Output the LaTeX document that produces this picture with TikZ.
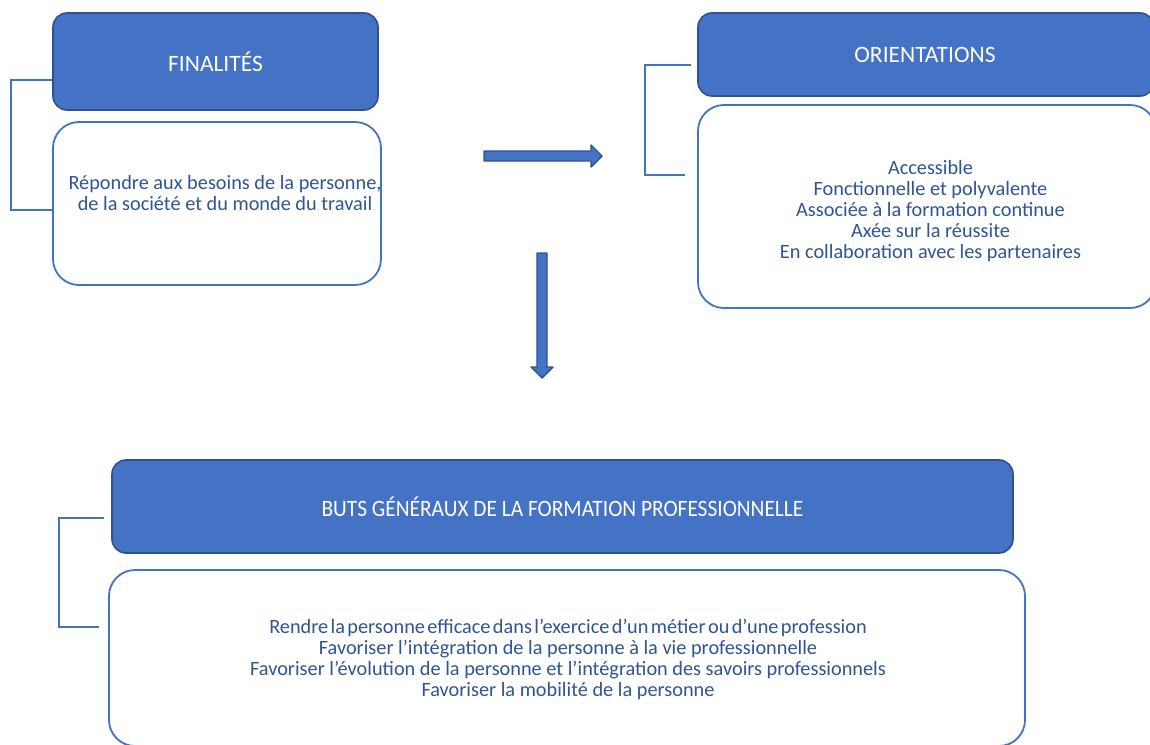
\documentclass[tikz,border=0pt]{standalone}
\usepackage{fontspec}
\usepackage{graphicx}
\setmainfont{Carlito}
\definecolor{accent}{RGB}{68,114,196}
\definecolor{accentdark}{RGB}{47,82,143}
\definecolor{bodytext}{RGB}{47,85,151}
\tikzset{
  headbox/.style={draw=accentdark, fill=accent, line width=1.6pt, rounded corners=14pt,
    inner sep=0pt, text=white, font=\fontsize{23.5}{26}\selectfont, align=center},
  contentbox/.style={draw=accent, fill=white, line width=1.8pt, rounded corners=26pt,
    inner sep=0pt},
  bodylines/.style={inner sep=0pt, text=bodytext, font=\fontsize{20.3}{21}\selectfont, align=center},
  bracket/.style={draw=accent, line width=2pt},
  bigarrow/.style={draw=accentdark, fill=accent, line width=1.4pt, line join=round}
}
\begin{document}
\begin{tikzpicture}[x=1pt, y=-1pt]
\clip (0,0) rectangle (1150,744);
\fill[white] (0,0) rectangle (1150,744);

% --- Finalités ---
\node[headbox, minimum width=325pt, minimum height=97pt] (finH) at (215.5,61.5) {FINALITÉS};
\node[contentbox, minimum width=328pt, minimum height=163pt] (finC) at (217,203.5) {};
\node[bodylines] (finText) at (225,193.5)
  {Répondre aux besoins de la personne,\\ de la société et du monde du travail};
\coordinate (finT) at (finH.west |- 0,80);
\coordinate (finB) at (finC.west |- 0,210);
\draw[bracket] (finT) -- (11,80) -- (11,210) -- (finB);

% --- Orientations ---
\node[headbox, minimum width=456pt, minimum height=83pt] (oriH) at (926,54.5) {\hspace*{-2pt}ORIENTATIONS};
\node[contentbox, minimum width=458pt, minimum height=203pt] (oriC) at (927,206.5) {};
\node[bodylines] (oriText) at (930.5,211.5)
  {Accessible\\ Fonctionnelle et polyvalente\\ Associée à la formation continue\\ Axée sur la réussite\\ En collaboration avec les partenaires};
\coordinate (oriT) at ([xshift=-6pt]oriH.west |- 0,65);
\coordinate (oriB) at ([xshift=-12pt]oriC.west |- 0,175);
\draw[bracket] (oriT) -- (645,65) -- (645,175) -- (oriB);

% --- Buts généraux ---
\node[headbox, minimum width=901pt, minimum height=93pt] (butH) at (562.5,506.5)
  {\scalebox{0.91}[1]{BUTS GÉNÉRAUX DE LA FORMATION PROFESSIONNELLE}};
\node[contentbox, minimum width=916pt, minimum height=176pt] (butC) at (567,658) {};
\node[bodylines] (butText) at (568,659.5)
  {{\spaceskip=2.4pt\relax Rendre la personne efficace dans l’exercice d’un métier ou d’une profession}\\
   Favoriser l’intégration de la personne à la vie professionnelle\\
   Favoriser l’évolution de la personne et l’intégration des savoirs professionnels\\
   Favoriser la mobilité de la personne};
\coordinate (butT) at ([xshift=-7pt]butH.west |- 0,518);
\coordinate (butB) at ([xshift=-9pt]butC.west |- 0,627);
\draw[bracket] (butT) -- (59,518) -- (59,627) -- (butB);

% --- Block arrows ---
\draw[bigarrow] (484,151) -- (591,151) -- (591,145) -- (602,156) -- (591,167)
  -- (591,161) -- (484,161) -- cycle;
\draw[bigarrow] (537,253) -- (547,253) -- (547,367) -- (553,367) -- (542,378)
  -- (531,367) -- (537,367) -- cycle;
\end{tikzpicture}
\end{document}
